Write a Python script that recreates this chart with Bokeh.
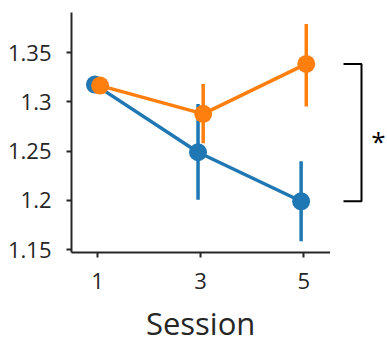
from bokeh.plotting import figure
from bokeh.models import Range1d, FixedTicker, ColumnDataSource
from bokeh.layouts import row, column
from bokeh.core.properties import value
from bokeh.embed import file_html
from bokeh.resources import INLINE

# ---- data ----
sessions = [1, 3, 5]
blue_mean = [1.3175, 1.2488, 1.1990]
blue_low = [1.3175, 1.2005, 1.1584]
blue_high = [1.3175, 1.2979, 1.2396]
orange_mean = [1.3165, 1.2878, 1.3385]
orange_low = [1.3165, 1.2579, 1.2952]
orange_high = [1.3165, 1.3182, 1.3791]
y_ticks = [1.15, 1.2, 1.25, 1.3, 1.35]
y_tick_labels = ["1.15", "1.2", "1.25", "1.3", "1.35"]
x_tick_labels = ["1", "3", "5"]
x_label = "Session"
sig_label = "*"

BLUE = "#1f77b4"
ORANGE = "#ff7f0e"
AX = "#262626"
FONT = "Open Sans"
dodge = 0.05


def bare(fig):
    fig.outline_line_color = None
    fig.xgrid.visible = False
    fig.ygrid.visible = False


p = figure(width=330, height=306, output_backend="svg", toolbar_location=None,
           x_range=Range1d(0.495, 5.52), y_range=Range1d(1.147, 1.3907),
           min_border_left=71, min_border_right=0, min_border_top=12,
           min_border_bottom=54)
bare(p)

for ax in (p.xaxis[0], p.yaxis[0]):
    ax.axis_line_color = AX
    ax.axis_line_width = 2
    ax.major_tick_line_color = AX
    ax.major_tick_line_width = 2
    ax.major_tick_in = 0
    ax.major_tick_out = 5
    ax.minor_tick_line_color = None
    ax.major_label_text_font = FONT
    ax.major_label_text_font_size = "22px"
    ax.major_label_text_color = AX

p.xaxis.ticker = FixedTicker(ticks=sessions)
p.xaxis.major_label_overrides = {s: l for s, l in zip(sessions, x_tick_labels)}
p.xaxis.major_label_standoff = 15

p.yaxis.ticker = FixedTicker(ticks=y_ticks)
p.yaxis.major_label_overrides = {t: l for t, l in zip(y_ticks, y_tick_labels)}
p.yaxis.major_label_standoff = 15

for mean, low, high, color, off in ((blue_mean, blue_low, blue_high, BLUE, -dodge),
                                    (orange_mean, orange_low, orange_high, ORANGE, dodge)):
    xs = [s + off for s in sessions]
    src = ColumnDataSource(dict(x=xs, y=mean, lo=low, hi=high))
    p.segment(x0="x", y0="lo", x1="x", y1="hi", source=src, line_color=color, line_width=3.5)
    p.line(x="x", y="y", source=src, line_color=color, line_width=3.5)
    p.scatter(x="x", y="y", source=src, size=18, fill_color=color, line_color=color, line_width=0)

# side panel with the significance bracket between session-5 means
p2 = figure(width=57, height=306, output_backend="svg", toolbar_location=None,
            x_range=Range1d(0, 57), y_range=p.y_range,
            x_axis_location=None, y_axis_location=None,
            min_border_left=0, min_border_right=0, min_border_top=12,
            min_border_bottom=54)
bare(p2)

y_top = orange_mean[-1]
y_bot = blue_mean[-1]
p2.line(x=[13, 31, 31, 13], y=[y_top, y_top, y_bot, y_bot], line_color="black", line_width=2)
p2.text(x=[48], y=[(y_top + y_bot) / 2], text=[sig_label], y_offset=8,
        text_font=value(FONT), text_font_size="26px", text_color="black",
        text_align="center", text_baseline="middle")

# strip below holding the axis title, centred on the session axis
p3 = figure(width=330, height=32, output_backend="svg", toolbar_location=None,
            x_range=p.x_range, y_range=Range1d(0, 32),
            x_axis_location=None, y_axis_location=None,
            min_border_left=71, min_border_right=0, min_border_top=0,
            min_border_bottom=0)
bare(p3)
p3.text(x=[sum(sessions) / len(sessions)], y=[16], text=[x_label],
        text_font=value(FONT), text_font_size="31px", text_color=AX,
        text_align="center", text_baseline="alphabetic")

layout = column(row(p, p2), p3)
open("out.html", "w").write(file_html(layout, INLINE))
